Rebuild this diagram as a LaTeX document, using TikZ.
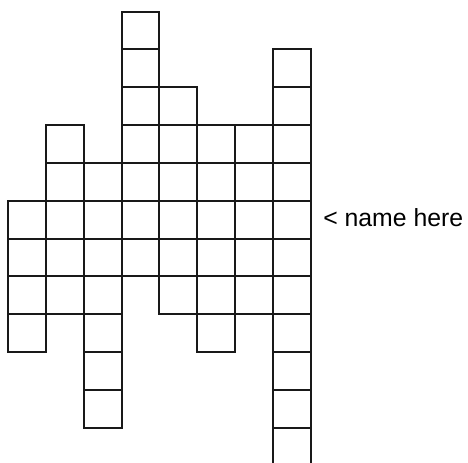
\documentclass[tikz,border=0pt]{standalone}
\usepackage{fontspec}
\setmainfont{Liberation Sans}
\begin{document}
\begin{tikzpicture}[x=0.75pt,y=-0.75pt,
  cell/.style={draw=black!90,line width=1.5pt,line join=miter},
  lbl/.style={anchor=base west,inner sep=0pt,font=\fontsize{18.6}{20}\selectfont}]
\useasboundingbox (0,0) rectangle (468,462);
\clip (0,0) rectangle (468,462);
\def\s{37.85}
\foreach \c/\a/\b in {0/5/8,1/3/7,2/4/10,3/0/6,4/2/7,5/3/8,6/3/7,7/1/11}{
  \foreach \r in {\a,...,\b}{
    \draw[cell] ({8+\c*\s},{11.5+\r*\s}) rectangle ({8+(\c+1)*\s},{11.5+(\r+1)*\s});
  }
}
\node[lbl] (name) at (323,226.5) {< name here};
\end{tikzpicture}
\end{document}
